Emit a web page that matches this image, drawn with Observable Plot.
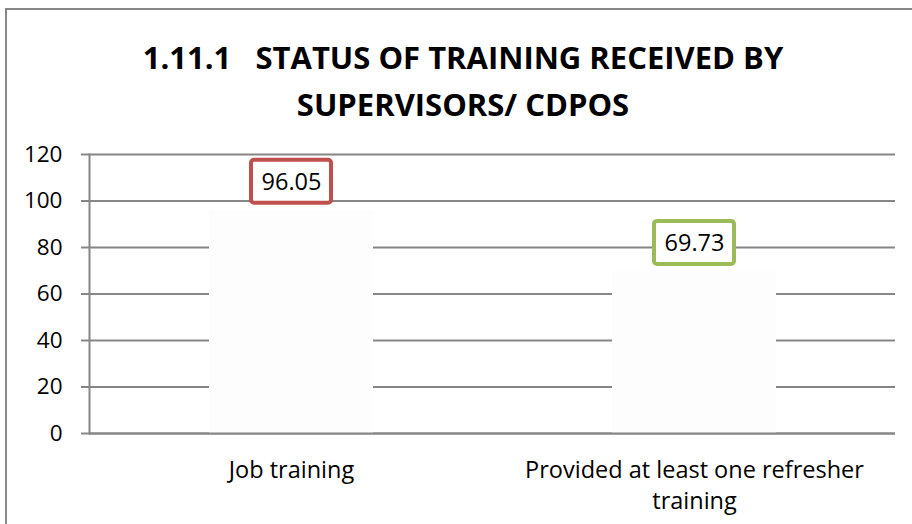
<!DOCTYPE html>
<html><head><meta charset="utf-8">
<script src="https://cdn.jsdelivr.net/npm/d3@7"></script>
<script src="https://cdn.jsdelivr.net/npm/@observablehq/plot@0.6"></script>
<style>
body{margin:0;background:#fff;}
#wrap{position:relative;width:912px;height:524px;overflow:hidden;font-family:"Open Sans",sans-serif;background:#fff;}
#border{position:absolute;left:5px;top:8px;width:1000px;height:1000px;border-left:2px solid #888;border-top:2px solid #888;}
#title{position:absolute;left:0;width:926px;top:34px;text-align:center;font-weight:bold;font-size:31px;line-height:47px;color:#000;white-space:pre;}
#chart{position:absolute;left:0;top:0;}
</style></head><body>
<div id="wrap"><div id="border"></div><div id="title"></div><div id="chart"></div></div>
<script>
const titleLines = ["1.11.1   STATUS OF TRAINING RECEIVED BY", "SUPERVISORS/ CDPOS"];
const categories = ["Job training", "Provided at least one refresher training"];
const values = [96.05, 69.73];
const tickLabels = ["Job training", "Provided at least one refresher\ntraining"];
const labelColors = ["#c0504d", "#9bbb59"];
const yTicks = [0, 20, 40, 60, 80, 100, 120];

document.getElementById("title").textContent = titleLines.join("\n");

const data = categories.map((c, i) => ({category: c, value: values[i], color: labelColors[i]}));
const grid = "#868686";

const chart = Plot.plot({
  width: 912, height: 524,
  marginTop: 154, marginBottom: 91, marginLeft: 89, marginRight: 17,
  style: {fontFamily: "Open Sans", fontSize: "22px", color: "#000", background: "transparent"},
  x: {domain: categories, paddingInner: 0.594, paddingOuter: 0.2946, axis: null, label: null},
  y: {domain: [0, 120], axis: null, label: null},
  color: {type: "identity"},
  marks: [
    Plot.ruleY(yTicks, {stroke: grid, strokeWidth: 2}),
    Plot.barY(data, {x: "category", y: "value", fill: "#fdfdfd"}),
    Plot.ruleY([0], {stroke: grid, strokeWidth: 2}),
    Plot.frame({anchor: "left", stroke: grid, strokeWidth: 2}),
    Plot.axisY({ticks: yTicks, tickSize: 8, tickPadding: 19, stroke: grid, strokeWidth: 2, fill: "#000", fontSize: 22.5, label: null}),
    Plot.axisX({tickSize: 0, tickPadding: 23, lineHeight: 1.3, fontSize: 23.5, fill: "#000", label: null,
      tickFormat: d => tickLabels[categories.indexOf(d)]}),
    Plot.barY(data, {x: "category", y1: "value", y2: "value", insetTop: -50, insetBottom: 7,
      insetLeft: 42, insetRight: 42, fill: "white", stroke: "color", strokeWidth: 4, rx: 3}),
    Plot.text(data, {x: "category", y: "value", text: d => d.value.toFixed(2), dy: -28, fontSize: 23.5, fill: "#000"})
  ]
});
document.getElementById("chart").appendChild(chart);
</script>
</body></html>
